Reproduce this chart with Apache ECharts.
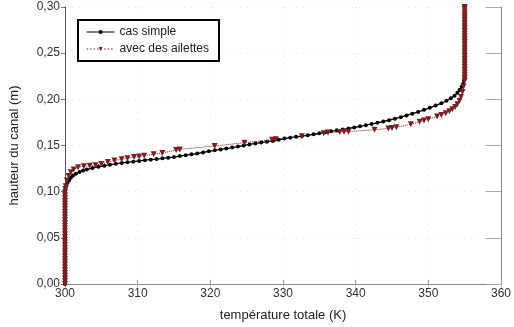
<!DOCTYPE html>
<html>
<head>
<meta charset="utf-8">
<script src="https://cdn.jsdelivr.net/npm/echarts@6/dist/echarts.min.js"></script>
<style>
  html, body { margin: 0; padding: 0; background: #fff; }
  #chart { width: 514px; height: 327px; }
</style>
</head>
<body>
<div id="chart"></div>
<script>
// Profils de température le long du canal : [température (K), hauteur (m)]
const casSimple = [
  [300,0],[300,0.003],[300,0.006],[300,0.009],[300,0.012],[300,0.015],[300,0.018],[300,0.021],
  [300,0.024],[300,0.027],[300,0.030],[300,0.033],[300,0.036],[300,0.039],[300,0.042],[300,0.045],
  [300,0.048],[300,0.051],[300,0.054],[300,0.057],[300,0.060],[300,0.063],[300,0.066],[300,0.069],
  [300,0.072],[300,0.075],[300,0.078],[300,0.081],[300,0.084],[300,0.087],[300,0.090],[300,0.093],
  [300,0.096],[300,0.099],
  [300.05,0.1025],[300.1,0.105],[300.2,0.1075],[300.35,0.110],[300.55,0.1125],[300.8,0.115],
  [301.1,0.1175],[301.5,0.1195],[302.0,0.1213],[302.5,0.1228],[303.0,0.1240],[303.8,0.1255],
  [304.6,0.1270],[305.4,0.1280],[306.2,0.1292],[307.0,0.1302],[307.8,0.1311],[308.6,0.1318],
  [309.4,0.1325],[310.2,0.1333],[311.0,0.1341],[311.8,0.1347],[312.6,0.1353],[313.4,0.1361],
  [314.2,0.1368],[315.0,0.1375],[315.8,0.1385],[316.6,0.1395],[317.4,0.1404],[318.2,0.1413],
  [319.0,0.1425],[319.8,0.1437],[320.6,0.1448],[321.4,0.1458],[322.2,0.1467],[323.0,0.1477],
  [323.8,0.1488],[324.6,0.1500],[325.4,0.1512],[326.2,0.1522],[327.0,0.1532],[327.8,0.1541],
  [328.6,0.1550],[329.4,0.1562],[330.2,0.1575],[331.0,0.1585],[331.8,0.1594],[332.6,0.1602],
  [333.4,0.1612],[334.2,0.1622],[335.0,0.1632],[335.8,0.1643],[336.6,0.1654],[337.4,0.1664],
  [338.2,0.1673],[339.0,0.1684],[339.8,0.1696],[340.6,0.1708],[341.4,0.1720],[342.2,0.1733],
  [343.0,0.1746],[343.8,0.1760],[344.6,0.1774],[345.4,0.1790],[346.2,0.1807],[347.0,0.1825],
  [347.8,0.1844],[348.6,0.1864],[349.4,0.1886],[350.2,0.1908],[351.0,0.1932],[351.8,0.1958],
  [352.5,0.1985],[353.1,0.2012],[353.6,0.2040],[354.0,0.2070],[354.3,0.2100],[354.6,0.2135],
  [354.8,0.2170],[354.9,0.2205],[355,0.2240],
  [355,0.227],[355,0.230],[355,0.233],[355,0.236],[355,0.239],[355,0.242],[355,0.245],[355,0.248],
  [355,0.251],[355,0.254],[355,0.257],[355,0.260],[355,0.263],[355,0.266],[355,0.269],[355,0.272],
  [355,0.275],[355,0.278],[355,0.281],[355,0.284],[355,0.287],[355,0.290],[355,0.293],[355,0.296],
  [355,0.300]
];

const avecAilettes = [
  [300,0],[300,0.003],[300,0.006],[300,0.009],[300,0.012],[300,0.015],[300,0.018],[300,0.021],
  [300,0.024],[300,0.027],[300,0.030],[300,0.033],[300,0.036],[300,0.039],[300,0.042],[300,0.045],
  [300,0.048],[300,0.051],[300,0.054],[300,0.057],[300,0.060],[300,0.063],[300,0.066],[300,0.069],
  [300,0.072],[300,0.075],[300,0.078],[300,0.081],[300,0.084],[300,0.087],[300,0.090],[300,0.093],
  [300,0.096],[300,0.099],
  [300.05,0.103],[300.1,0.106],[300.25,0.112],[300.5,0.117],[300.8,0.121],[301.2,0.124],
  [301.8,0.1265],[302.6,0.1275],[303.4,0.1280],[304.2,0.1285],[305.0,0.1300],[305.9,0.1320],
  [306.8,0.1337],[307.8,0.1350],[308.6,0.1362],[309.5,0.1375],[310.2,0.1382],[310.9,0.1390],
  [312.2,0.1405],[313.4,0.1420],[315.3,0.1450],[315.8,0.1458],[320.6,0.1495],[324.7,0.1530],
  [328.5,0.1562],[329.0,0.1567],[332.6,0.1600],[335.6,0.1632],[336.2,0.1640],[337.8,0.1645],
  [338.4,0.1648],[339.0,0.1650],[342.6,0.1670],[344.5,0.1685],[345.0,0.1690],[345.6,0.1697],
  [347.6,0.1730],[348.8,0.1758],[349.4,0.1770],[350.0,0.1785],[351.2,0.1815],[351.8,0.1830],
  [352.4,0.1848],[352.9,0.1870],[353.3,0.1892],[353.7,0.1918],[354.0,0.1948],[354.3,0.1985],
  [354.5,0.2025],[354.7,0.2080],[354.85,0.2140],[355,0.2200],
  [355,0.223],[355,0.226],[355,0.229],[355,0.232],[355,0.235],[355,0.238],[355,0.241],[355,0.244],
  [355,0.247],[355,0.250],[355,0.253],[355,0.256],[355,0.259],[355,0.262],[355,0.265],[355,0.268],
  [355,0.271],[355,0.274],[355,0.277],[355,0.280],[355,0.283],[355,0.286],[355,0.289],[355,0.292],
  [355,0.295],[355,0.298],[355,0.300]
];

const nomsSeries = ['cas simple', 'avec des ailettes'];
const titreX = 'température totale (K)';
const titreY = 'hauteur du canal (m)';

const police = 'Liberation Sans, Arial, sans-serif';
const virgule = v => v.toFixed(2).replace('.', ',');
const noir = '#000000';
const bordeaux = '#7a2024';

const chart = echarts.init(document.getElementById('chart'), null, { renderer: 'canvas' });

const grilleFaible = { show: true, lineStyle: { color: '#e4e4e4', type: [1, 6], width: 1 } };

chart.setOption({
  animation: false,
  backgroundColor: '#ffffff',
  grid: { left: 63, right: 9, top: 7, bottom: 35 },
  legend: {
    orient: 'vertical',
    left: 78, top: 20,
    padding: [6, 10, 6, 8],
    itemGap: 5,
    itemWidth: 28, itemHeight: 5,
    borderColor: '#000', borderWidth: 2,
    backgroundColor: '#fff',
    textStyle: { fontFamily: police, fontSize: 12, color: '#222' },
    data: [
      { name: nomsSeries[0], lineStyle: { color: noir, width: 1, type: 'solid' } },
      { name: nomsSeries[1], lineStyle: { color: bordeaux, width: 1.2, type: [1.5, 2] } }
    ]
  },
  xAxis: [
    {
      type: 'value', min: 300, max: 360, interval: 10,
      name: titreX, nameLocation: 'middle', nameGap: 25,
      nameTextStyle: { fontFamily: police, fontSize: 13, color: '#222' },
      axisLine: { show: true, lineStyle: { color: '#555', width: 1 } },
      axisTick: { show: true, inside: true, length: 4, lineStyle: { color: '#999' } },
      axisLabel: { fontFamily: police, fontSize: 12, color: '#333', margin: 4 },
      splitLine: grilleFaible
    },
    {
      type: 'value', min: 300, max: 360, interval: 10, position: 'top',
      axisLine: { show: true, lineStyle: { color: '#888', width: 1 } },
      axisTick: { show: true, inside: true, length: 5, lineStyle: { color: '#bbb' } },
      axisLabel: { show: false }, splitLine: { show: false }
    }
  ],
  yAxis: [
    {
      type: 'value', min: 0, max: 0.30, interval: 0.05,
      name: titreY, nameLocation: 'middle', nameGap: 44,
      nameTextStyle: { fontFamily: police, fontSize: 13, color: '#222' },
      axisLine: { show: true, lineStyle: { color: '#555', width: 1 } },
      axisTick: { show: true, length: 4, lineStyle: { color: '#777' } },
      axisLabel: { fontFamily: police, fontSize: 12, color: '#333', margin: 5, formatter: virgule },
      splitLine: grilleFaible
    },
    {
      type: 'value', min: 0, max: 0.30, interval: 0.05, position: 'right',
      axisLine: { show: true, lineStyle: { color: '#888', width: 1 } },
      axisTick: { show: true, inside: true, length: 15, lineStyle: { color: '#aaa' } },
      axisLabel: { show: false }, splitLine: { show: false }
    }
  ],
  series: [
    {
      name: nomsSeries[0], type: 'line', data: casSimple,
      symbol: 'circle', symbolSize: 4,
      itemStyle: { color: noir },
      lineStyle: { color: noir, width: 1.3 }
    },
    {
      name: nomsSeries[1], type: 'line', data: avecAilettes,
      symbol: 'triangle', symbolRotate: 180, symbolSize: 6,
      itemStyle: { color: bordeaux },
      lineStyle: { color: bordeaux, width: 1, type: 'dotted' }
    }
  ]
});
</script>
</body>
</html>
